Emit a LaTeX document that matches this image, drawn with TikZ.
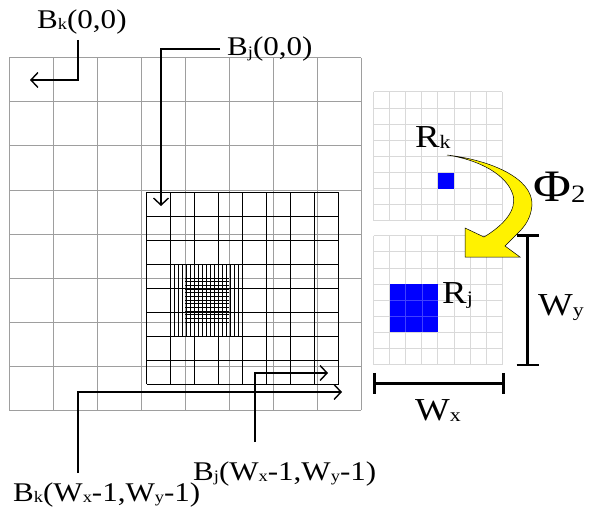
\documentclass[tikz,border=0pt]{standalone}
\usepackage{fontspec}
\setmainfont{Liberation Serif}[FakeStretch=1.15]
\usetikzlibrary{arrows.meta}
\newcommand\lsub[2][16]{\raisebox{-1.5pt}{\fontsize{#1}{#1}\selectfont #2}}
\tikzset{
  lbl/.style={anchor=base west, inner sep=0pt, font=\fontsize{27}{30}\selectfont},
  rlbl/.style={anchor=base west, inner sep=0pt, font=\fontsize{32}{36}\selectfont},
  ptr/.style={line width=1.4pt, -{Straight Barb[length=7pt,width=15pt,line width=1.4pt]}},
  biggrid/.style={draw=black!38, line width=1pt},
  innergrid/.style={draw=black, line width=1pt},
  finegrid/.style={draw=black, line width=0.7pt},
  smallgrid/.style={draw=black!15, line width=1pt},
  bracket/.style={line width=2.8pt},
}
\begin{document}
\begin{tikzpicture}[x=1pt,y=-1pt]
\useasboundingbox (0,0) rectangle (589,508);
% big grid
\foreach \i in {0,...,8} {
  \draw[biggrid] ({9+44*\i},58) -- ({9+44*\i},410);
  \draw[biggrid] (9,{58+44*\i}) -- (361,{58+44*\i});
}
% inner grid
\foreach \i in {0,...,8} {
  \draw[innergrid] ({146.7+24*\i},192.3) -- ({146.7+24*\i},384.3);
  \draw[innergrid] (146.7,{192.3+24*\i}) -- (338.7,{192.3+24*\i});
}
% fine grid
\foreach \i in {0,...,18} {
  \draw[finegrid] ({170.7+4*\i},264.7) -- ({170.7+4*\i},336.3);
}
\foreach \i in {0,...,12} {
  \draw[finegrid] (185,{278+3.6667*\i}) -- (229,{278+3.6667*\i});
}
% small grids
\foreach \i in {0,...,8} {
  \draw[smallgrid] ({373.5+16.1*\i},92) -- ({373.5+16.1*\i},220.8);
  \draw[smallgrid] (373.5,{92+16.1*\i}) -- (502.3,{92+16.1*\i});
  \draw[smallgrid] ({373.5+16.1*\i},235.8) -- ({373.5+16.1*\i},364.6);
  \draw[smallgrid] (373.5,{235.8+16.1*\i}) -- (502.3,{235.8+16.1*\i});
}
\fill[blue] (437.9,172.5) rectangle (454.0,188.6);
\fill[blue] (389.6,284.1) rectangle (437.9,332.4);
\foreach \i in {1,2} {
  \draw[draw=blue!75!white, line width=0.6pt] ({389.6+16.1*\i},284.1) -- ({389.6+16.1*\i},332.4);
  \draw[draw=blue!75!white, line width=0.6pt] (389.6,{284.1+16.1*\i}) -- (437.9,{284.1+16.1*\i});
}
% yellow curved arrow
\filldraw[fill=yellow, draw=black, line width=0.5pt]
  (447,155) .. controls (490,160) and (533,178) .. (532,205)
  .. controls (531,218) and (525,226) .. (519,232)
  -- (505,246) -- (520,257) -- (465,257) -- (465,228) -- (484,237)
  .. controls (504,225) and (517,210) .. (513,195)
  .. controls (507,175) and (480,160) .. (447,155) -- cycle;
% brackets
\coordinate (wyt) at (527.7,235.7);
\coordinate (wyb) at (527.7,365);
\draw[bracket] (wyt) -- (wyb);
\draw[bracket] ([xshift=-11pt]wyt) -- ([xshift=11pt]wyt);
\draw[bracket] ([xshift=-11pt]wyb) -- ([xshift=11pt]wyb);
\coordinate (wxl) at (374.3,383.3);
\coordinate (wxr) at (503.3,383.3);
\draw[bracket] (wxl) -- (wxr);
\draw[bracket] ([yshift=10.5pt]wxl) -- ([yshift=-10.5pt]wxl);
\draw[bracket] ([yshift=10.5pt]wxr) -- ([yshift=-10.5pt]wxr);
% labels
\node[lbl] (bk00) at (37,28.5) {B\lsub{k}(0,0)};
\node[lbl] (bj00) at (227,56) {B\lsub{j}(0,0)};
\node[lbl] (bjw) at (193,480) {B\lsub{j}(W\lsub{x}-1,W\lsub{y}-1)};
\node[lbl] (bkw) at (13,501) {B\lsub{k}(W\lsub{x}-1,W\lsub{y}-1)};
\node[rlbl] (rk) at (415,147) {R\lsub[19]{k}};
\node[rlbl] (rj) at (442,303) {R\lsub[19]{j}};
\node[anchor=base west, inner sep=0pt, font=\fontsize{45}{48}\selectfont] (phi) at (533,201) {Φ\lsub[25]{2}};
\node[rlbl] (wy) at (538,315) {W\lsub[19]{y}};
\node[rlbl] (wx) at (415,420) {W\lsub[19]{x}};
% pointers
\coordinate (p1) at (78,40);   \coordinate (p1e) at (30,80);
\coordinate (p2) at (220,49);  \coordinate (p2e) at (161,206);
\coordinate (p3) at (78,473);  \coordinate (p3e) at (342,392);
\coordinate (p4) at (255,442); \coordinate (p4e) at (328,373);
\draw[ptr] (p1) |- (p1e);
\draw[ptr] (p2) -| (p2e);
\draw[ptr] (p3) |- (p3e);
\draw[ptr] (p4) |- (p4e);
\end{tikzpicture}
\end{document}
